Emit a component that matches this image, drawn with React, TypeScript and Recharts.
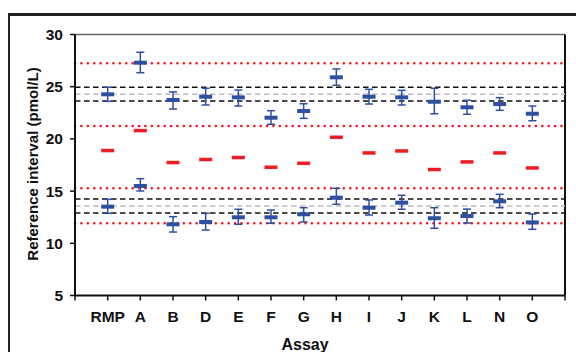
import { ComposedChart, ErrorBar, ReferenceLine, Scatter, XAxis, YAxis } from "recharts";

const assays = ["RMP", "A", "B", "D", "E", "F", "G", "H", "I", "J", "K", "L", "N", "O"];

// upper reference limit: mean with 90% CI
const upperMid = [24.27, 27.3, 23.73, 24.04, 23.98, 22.03, 22.67, 25.9, 24.04, 23.98, 23.56, 23.03, 23.34, 22.41];
const upperHi = [24.95, 28.3, 24.5, 24.85, 24.68, 22.7, 23.37, 26.7, 24.75, 24.65, 24.85, 23.7, 23.95, 23.15];
const upperLo = [23.6, 26.34, 22.86, 23.25, 23.15, 21.4, 21.97, 25.13, 23.34, 23.25, 22.41, 22.36, 22.74, 21.74];

// median of interval
const middle = [18.91, 20.82, 17.76, 18.05, 18.24, 17.31, 17.69, 20.18, 18.68, 18.87, 17.09, 17.82, 18.68, 17.24];

// lower reference limit
const lowerMid = [13.51, 15.49, 11.82, 12.04, 12.49, 12.49, 12.78, 14.37, 13.41, 13.89, 12.4, 12.61, 14.02, 12.0];
const lowerHi = [14.21, 16.19, 12.55, 12.87, 13.26, 13.19, 13.41, 15.27, 14.15, 14.6, 13.41, 13.28, 14.69, 12.81];
const lowerLo = [12.87, 15.01, 11.08, 11.27, 11.82, 11.92, 12.04, 13.74, 12.71, 13.26, 11.44, 11.94, 13.41, 11.34];

const redLimits = [27.24, 21.24, 15.27, 11.92];
const blackLimits = [24.94, 23.63, 14.24, 12.9];
const greyLimits = [24.27, 13.57];

const yTicks = [5, 10, 15, 20, 25, 30];

const BLUE = "#2f4fa3";
const RED = "#ee1c24";
const FONT = "'Liberation Sans', Arial, sans-serif";

const data = assays.map((name, i) => ({
  x: i + 1,
  name,
  upper: upperMid[i],
  upperErr: [upperMid[i] - upperLo[i], upperHi[i] - upperMid[i]],
  mid: middle[i],
  lower: lowerMid[i],
  lowerErr: [lowerMid[i] - lowerLo[i], lowerHi[i] - lowerMid[i]],
}));

const BlueDash = (props: any) => {
  const { cx, cy } = props;
  if (cx == null || cy == null) return null;
  return <rect x={cx - 6.5} y={cy - 2} width={13} height={4} fill={BLUE} />;
};

const RedDash = (props: any) => {
  const { cx, cy } = props;
  if (cx == null || cy == null) return null;
  return <rect x={cx - 6.5} y={cy - 1.5} width={13} height={3.5} fill={RED} />;
};

export default function App() {
  const tickStyle = { fill: "#111", fontSize: 15.5, fontWeight: 700, fontFamily: FONT };
  return (
    <div style={{ position: "absolute", left: 0, top: 0, width: 576, height: 352, background: "#fff", overflow: "hidden" }}>
      <div style={{ position: "absolute", left: 8, top: 13, width: 568, height: 2.5, background: "#222" }} />
      <div style={{ position: "absolute", left: 7.5, top: 13, width: 2.5, height: 339, background: "#222" }} />
      <ComposedChart
        width={576}
        height={352}
        data={data}
        margin={{ top: 34.5, right: 11, bottom: 26.5, left: 35 }}
      >
        <XAxis
          dataKey="x"
          type="number"
          domain={[0, 15]}
          ticks={[0, 1, 2, 3, 4, 5, 6, 7, 8, 9, 10, 11, 12, 13, 14, 15]}
          tickFormatter={(v) => (v >= 1 && v <= 14 ? assays[v - 1] : "")}
          interval={0}
          height={30}
          tick={tickStyle}
          tickSize={5}
          axisLine={{ stroke: "#111", strokeWidth: 2 }}
          tickLine={{ stroke: "#111", strokeWidth: 1.5 }}
          tickMargin={10}
        />
        <YAxis
          type="number"
          domain={[5, 30]}
          ticks={yTicks}
          width={40}
          tick={tickStyle}
          tickSize={5}
          axisLine={{ stroke: "#111", strokeWidth: 2 }}
          tickLine={{ stroke: "#111", strokeWidth: 1.5 }}
          tickMargin={7}
        />
        <ReferenceLine y={30} stroke="#666" strokeWidth={1.5} />
        <ReferenceLine x={15} stroke="#111" strokeWidth={2} />
        {greyLimits.map((v) => (
          <ReferenceLine key={"g" + v} y={v} stroke="#bdbdbd" strokeWidth={1.5} strokeDasharray="5.5 3.5" />
        ))}
        {blackLimits.map((v) => (
          <ReferenceLine key={"b" + v} y={v} stroke="#111" strokeWidth={1.5} strokeDasharray="5.5 3.5" />
        ))}
        {redLimits.map((v) => (
          <ReferenceLine
            key={"r" + v}
            y={v}
            stroke={RED}
            strokeWidth={2.6}
            strokeDasharray="0.1 6.3"
            strokeLinecap="round"
          />
        ))}
        <Scatter dataKey="mid" shape={<RedDash />} isAnimationActive={false} />
        <Scatter dataKey="upper" shape={<BlueDash />} isAnimationActive={false}>
          <ErrorBar dataKey="upperErr" direction="y" width={4} stroke={BLUE} strokeWidth={1.5} />
        </Scatter>
        <Scatter dataKey="lower" shape={<BlueDash />} isAnimationActive={false}>
          <ErrorBar dataKey="lowerErr" direction="y" width={4} stroke={BLUE} strokeWidth={1.5} />
        </Scatter>
      </ComposedChart>
      <div
        style={{
          position: "absolute",
          left: 32,
          top: 164,
          transform: "translate(-50%, -50%) rotate(-90deg)",
          whiteSpace: "nowrap",
          fontFamily: FONT,
          fontWeight: 700,
          fontSize: 15,
          color: "#111",
        }}
      >
        Reference interval (pmol/L)
      </div>
      <div
        style={{
          position: "absolute",
          left: 305,
          top: 345,
          transform: "translate(-50%, -50%)",
          whiteSpace: "nowrap",
          fontFamily: FONT,
          fontWeight: 700,
          fontSize: 16,
          color: "#111",
        }}
      >
        Assay
      </div>
    </div>
  );
}
